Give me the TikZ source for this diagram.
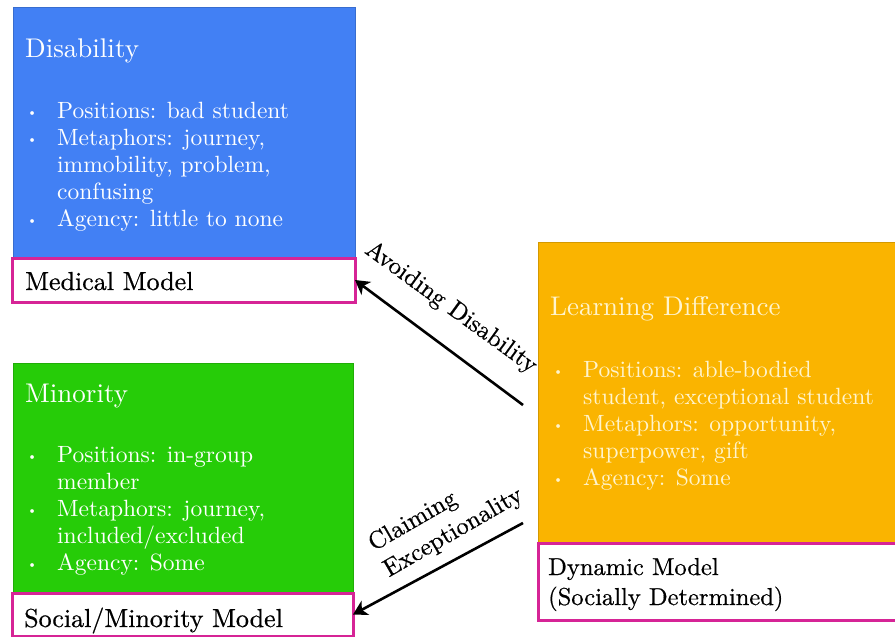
\documentclass[tikz,border=0pt]{standalone}
\usepackage{fontspec}
\setmainfont{lmroman10-regular.otf}
\newfontfamily\heavyfont{lmroman10-regular.otf}[FakeBold=0.6]
\usetikzlibrary{arrows.meta}
\definecolor{dblue}{RGB}{66,128,244}
\definecolor{dgreen}{RGB}{38,204,8}
\definecolor{dorange}{RGB}{250,180,0}
\definecolor{dmagenta}{RGB}{214,36,150}
\definecolor{cream}{RGB}{255,244,205}
\newcommand{\bodysz}{\fontsize{23.5}{27}\selectfont}
\newcommand{\titlesz}{\fontsize{27}{30}\selectfont}
\newcommand{\labsz}{\heavyfont\fontsize{26}{30}\selectfont}
\newcommand{\arrsz}{\heavyfont\fontsize{24.7}{30}\selectfont}
\newcommand{\bul}{{\fontsize{13}{13}\selectfont\raisebox{0.25ex}{\textbullet}}}
\begin{document}
\begin{tikzpicture}[x=1pt,y=-1pt,
  panel/.style={anchor=north west, inner sep=0pt, outer sep=0pt, line width=0.8pt},
  labelbox/.style={anchor=north west, inner sep=0pt, outer sep=0pt, draw=dmagenta, line width=3pt, fill=white},
  txt/.style={anchor=base west, inner sep=0pt, font=\bodysz},
  ttl/.style={anchor=base west, inner sep=0pt, font=\titlesz},
  lab/.style={anchor=base west, inner sep=0pt, font=\labsz},
  arr/.style={line width=2.6pt, -{Stealth[length=14pt,width=16pt,inset=4pt]}},
  arrlabel/.style={inner sep=0pt, font=\arrsz, align=left}]
\useasboundingbox[fill=white] (0,0) rectangle (895,637);
% panels
\node[panel, fill=dblue, draw=dblue!85!black, minimum width=342pt, minimum height=251pt] (dis) at (13,7) {};
\node[labelbox, minimum width=343pt, minimum height=44pt] (med) at (12,258) {};
\node[panel, fill=dgreen, draw=dgreen!85!black, minimum width=340pt, minimum height=230pt] (min) at (13,363) {};
\node[labelbox, minimum width=341pt, minimum height=43pt] (soc) at (12,593) {};
\node[panel, fill=dorange, draw=dorange!85!black, minimum width=362pt, minimum height=301pt] (ld) at (538,242) {};
\node[labelbox, minimum width=362pt, minimum height=77pt] (dyn) at (538,543) {};
% texts: Disability
\node[ttl, text=white] (distitle) at (25,57) {Disability};
\node[txt, text=white] (distext) at (27,118) {\begin{tabular}[t]{@{}p{30pt}@{}l@{}}
\bul & Positions: bad student\\
\bul & Metaphors: journey,\\
     & immobility, problem,\\
     & confusing\\
\bul & Agency: little to none
\end{tabular}};
\node[lab] (medtxt) at (25,290) {Medical Model};
% Minority
\node[ttl, text=white] (mintitle) at (25,402) {Minority};
\node[txt, text=white] (mintext) at (27,462) {\begin{tabular}[t]{@{}p{30pt}@{}l@{}}
\bul & Positions: in-group\\
     & member\\
\bul & Metaphors: journey,\\
     & included/excluded\\
\bul & Agency: Some
\end{tabular}};
\node[lab] (soctxt) at (24,627) {Social/Minority Model};
% Learning Difference
\node[ttl, text=cream] (ldtitle) at (550,315) {Learning Difference};
\node[txt, text=cream] (ldtext) at (553,377) {\begin{tabular}[t]{@{}p{30pt}@{}l@{}}
\bul & Positions: able-bodied\\
     & student, exceptional student\\
\bul & Metaphors: opportunity,\\
     & superpower, gift\\
\bul & Agency: Some
\end{tabular}};
\node[lab, font=\heavyfont\fontsize{24.5}{30}\selectfont] (dyntxt) at (548,575) {Dynamic Model};
\node[lab, font=\heavyfont\fontsize{24.5}{30}\selectfont] (dyntxt2) at (548,605) {(Socially Determined)};
% arrows
\coordinate (a1) at (523,405);
\coordinate (a2) at (523,523);
\draw[arr] (a1) -- (med.east);
\draw[arr] (a2) -- (soc.east);
\node[arrlabel, rotate=-36] (avoid) at (451,308) {Avoiding Disability};
\node[arrlabel, rotate=30] (claim) at (446,520) {Claiming\\Exceptionality};
\end{tikzpicture}
\end{document}
